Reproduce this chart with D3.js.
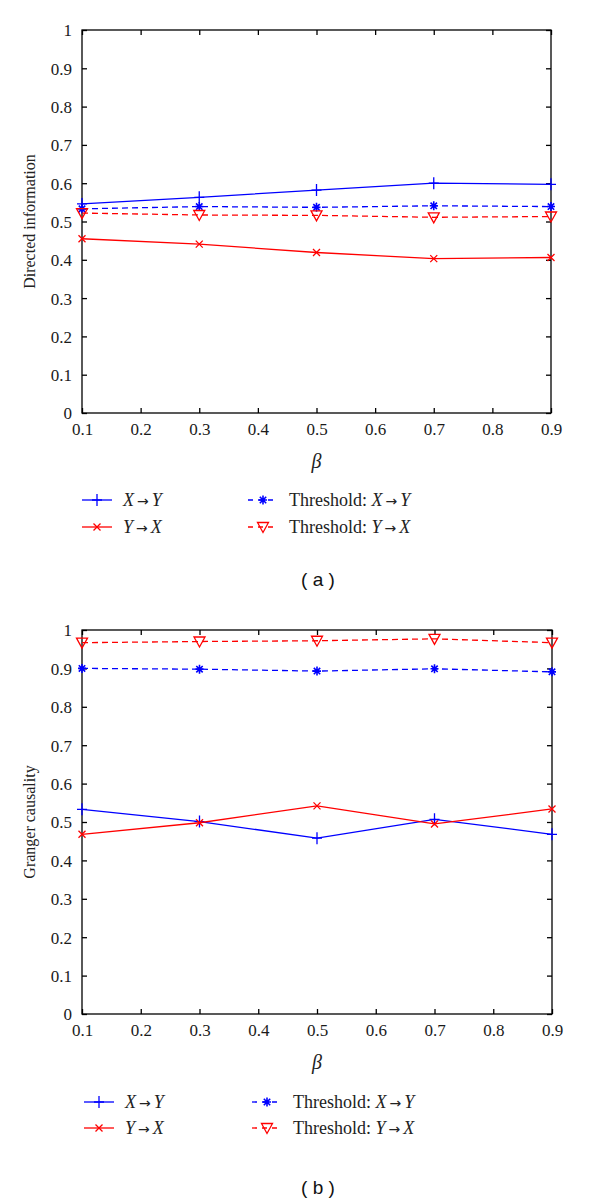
<!DOCTYPE html>
<html><head><meta charset="utf-8">
<script src="https://cdn.jsdelivr.net/npm/d3@7"></script>
<style>body{margin:0;background:#fff} .tick text{font-family:"Liberation Serif","DejaVu Serif",serif !important;}</style>
</head><body>
<svg id="c" width="600" height="1202"></svg>
<script>
const betas = [0.1, 0.3, 0.5, 0.7, 0.9];
const xTicks = [0.1,0.2,0.3,0.4,0.5,0.6,0.7,0.8,0.9];
const yTicks = [0,0.1,0.2,0.3,0.4,0.5,0.6,0.7,0.8,0.9,1];
const yTickLabels = ["0","0.1","0.2","0.3","0.4","0.5","0.6","0.7","0.8","0.9","1"];

// Panel (a): Directed information
const diXY   = [0.546, 0.563, 0.582, 0.600, 0.597];
const diYX   = [0.455, 0.441, 0.419, 0.403, 0.406];
const diThXY = [0.533, 0.539, 0.537, 0.541, 0.539];
const diThYX = [0.522, 0.517, 0.516, 0.511, 0.513];

// Panel (b): Granger causality
const gcXY   = [0.533, 0.501, 0.458, 0.507, 0.468];
const gcYX   = [0.468, 0.498, 0.542, 0.495, 0.534];
const gcThXY = [0.900, 0.898, 0.893, 0.899, 0.891];
const gcThYX = [0.967, 0.970, 0.972, 0.977, 0.967];

const panels = [
  {top:30, bottom:413, left:82, right:551, ylabel:"Directed information", tag:"( a )", tagY:586,
   xl:462, legY:[500,527], legX:[82,248],
   series:[diXY, diYX, diThXY, diThYX]},
  {top:630, bottom:1014, left:82, right:552, ylabel:"Granger causality", tag:"( b )", tagY:1194,
   xl:1063, legY:[1102,1128], legX:[84,252],
   series:[gcXY, gcYX, gcThXY, gcThYX]}
];
const styles = [
  {color:"#0000ff", dash:null, marker:"plus", label:[["X","i"],["\u2192",""],["Y","i"]]},
  {color:"#ff0000", dash:null, marker:"cross", label:[["Y","i"],["\u2192",""],["X","i"]]},
  {color:"#0000ff", dash:"6,4", marker:"star", label:[["Threshold: ",""],["X","i"],["\u2192",""],["Y","i"]]},
  {color:"#ff0000", dash:"6,4", marker:"tri", label:[["Threshold: ",""],["Y","i"],["\u2192",""],["X","i"]]}
];
const serif = "Liberation Serif, DejaVu Serif, serif";
const svg = d3.select("#c");

function drawMarker(g, type, x, y, color){
  const m = g.append("g").attr("transform",`translate(${x},${y})`)
    .attr("stroke",color).attr("fill","none").attr("stroke-width",1.3);
  if(type==="plus"){
    m.append("path").attr("d","M-5,0H5M0,-6V6");
  } else if(type==="cross"){
    m.append("path").attr("d","M-3.5,-3.5L3.5,3.5M-3.5,3.5L3.5,-3.5");
  } else if(type==="star"){
    m.append("path").attr("d","M-4,0H4M0,-4.5V4.5M-3.2,-3.2L3.2,3.2M-3.2,3.2L3.2,-3.2").attr("stroke-width",1.6);
  } else if(type==="tri"){
    m.append("path").attr("d","M-5.5,-4.5L5.5,-4.5L0,5.5Z");
  }
}

panels.forEach(p=>{
  const x = d3.scaleLinear().domain([0.1,0.9]).range([p.left,p.right]);
  const y = d3.scaleLinear().domain([0,1]).range([p.bottom,p.top]);
  const g = svg.append("g");
  g.append("rect").attr("x",p.left).attr("y",p.top).attr("width",p.right-p.left).attr("height",p.bottom-p.top)
    .attr("fill","none").attr("stroke","#000").attr("stroke-width",1.3);
  const ax = g.append("g").attr("transform",`translate(0,${p.bottom})`)
    .call(d3.axisBottom(x).tickValues(xTicks).tickSize(-5).tickPadding(10).tickFormat(d3.format(".1f")));
  const axT = g.append("g").attr("transform",`translate(0,${p.top})`)
    .call(d3.axisTop(x).tickValues(xTicks).tickSize(-5).tickFormat(""));
  const ay = g.append("g").attr("transform",`translate(${p.left},0)`)
    .call(d3.axisLeft(y).tickValues(yTicks).tickSize(-5).tickPadding(10).tickFormat((d,i)=>yTickLabels[i]));
  const ayR = g.append("g").attr("transform",`translate(${p.right},0)`)
    .call(d3.axisRight(y).tickValues(yTicks).tickSize(-5).tickFormat(""));
  [ax,axT,ay,ayR].forEach(a=>{
    a.attr("font-family",serif).attr("font-size",17);
    a.select(".domain").remove();
    a.selectAll(".tick line").attr("stroke","#000").attr("stroke-width",1.3);
    a.selectAll("text").style("font-family",serif).style("font-size","17px").attr("fill","#1a1a1a");
  });
  ay.selectAll("text").attr("dy","0.35em");
  g.append("text").attr("x",(p.left+p.right)/2).attr("y",p.xl+6).attr("text-anchor","middle")
    .style("font-family",serif).attr("font-style","italic").style("font-size","20px").attr("fill","#222").text("\u03b2");
  g.append("text").attr("transform",`translate(35,${(p.top+p.bottom)/2}) rotate(-90)`).attr("text-anchor","middle")
    .style("font-family",serif).style("font-size","16px").attr("fill","#222").text(p.ylabel);
  g.append("text").attr("x",318).attr("y",p.tagY).attr("text-anchor","middle")
    .style("font-family","Liberation Sans, Arial, sans-serif").style("font-size","19px").attr("fill","#111").text(p.tag);
  const line = d3.line().x((d,i)=>x(betas[i])).y(d=>y(d));
  p.series.forEach((vals,si)=>{
    const st = styles[si];
    g.append("path").datum(vals).attr("d",line).attr("fill","none").attr("stroke",st.color)
      .attr("stroke-width",1.3).attr("stroke-dasharray",st.dash);
    vals.forEach((v,i)=>drawMarker(g,st.marker,x(betas[i]),y(v),st.color));
  });
  styles.forEach((st,si)=>{
    const col = si<2?0:1, row = si%2;
    const lx = p.legX[col], ly = p.legY[row];
    g.append("line").attr("x1",lx).attr("x2",lx+30).attr("y1",ly).attr("y2",ly)
      .attr("stroke",st.color).attr("stroke-width",1.3).attr("stroke-dasharray",st.dash?"5,5":null);
    drawMarker(g,st.marker,lx+15,ly,st.color);
    const t = g.append("text").attr("x",lx+41).attr("y",ly+6)
      .style("font-family",serif).style("font-size","18px").attr("fill","#222");
    let afterArrow = false;
    st.label.forEach(([s,f])=>{
      const ts = t.append("tspan").text(s);
      if(f==="i") ts.attr("font-style","italic");
      if(afterArrow){ ts.attr("dx",3); afterArrow=false; }
      if(s==="\u2192"){ ts.style("font-family","DejaVu Sans, sans-serif").style("font-size","14px").attr("dx",3); afterArrow=true; }
    });
  });
});
</script>
</body></html>
